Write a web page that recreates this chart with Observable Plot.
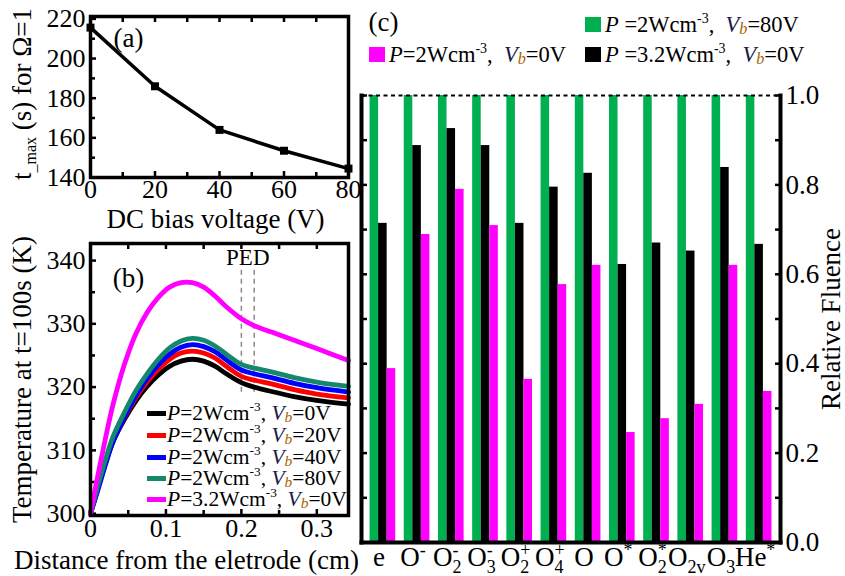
<!DOCTYPE html>
<html><head><meta charset="utf-8">
<script src="https://cdn.jsdelivr.net/npm/d3@7"></script>
<script src="https://cdn.jsdelivr.net/npm/@observablehq/plot@0.6"></script>
<style>
html,body{margin:0;padding:0;background:#fff;}
#wrap{position:relative;width:845px;height:576px;overflow:hidden;font-family:'Liberation Serif','Times New Roman',serif;color:#000;background:#fff;}
.p{position:absolute;}
.p svg{overflow:visible;}
.lg{position:absolute;font-size:21.5px;line-height:22px;height:22px;white-space:nowrap;}
.lg sup{font-size:0.62em;vertical-align:0.65em;line-height:0;}
.vb{font-style:italic;color:#1a1a4c;}
.vb sub{font-size:0.72em;vertical-align:-0.15em;line-height:0;color:#a86400;}
.sw{display:inline-block;width:19px;height:5px;vertical-align:middle;margin-right:1px;position:relative;top:-2px;}
.sq{display:inline-block;width:16px;height:15px;vertical-align:middle;margin-right:4px;position:relative;top:-2px;}
.cl{font-size:22.5px;}
</style></head>
<body>
<div id="wrap">
  <div id="pa" class="p" style="left:0;top:0"></div>
  <div id="pb" class="p" style="left:0;top:230px"></div>
  <div id="pc" class="p" style="left:340px;top:0"></div>
</div>
<script>
// ---------- Panel (a) data ----------
const biasVoltage = [0, 20, 40, 60, 80];
const tMax = [215.6, 186, 164, 153.5, 144.5];
const aXTicks = [0, 20, 40, 60, 80];
const aXMinor = [10, 30, 50, 70];
const aYTicks = [140, 160, 180, 200, 220];
const aYMinor = [150, 170, 190, 210];

// ---------- Panel (b) data ----------
const distance = [0, 0.01, 0.02, 0.03, 0.045, 0.06, 0.075, 0.09, 0.105, 0.12, 0.135, 0.15, 0.165, 0.18, 0.2, 0.217, 0.24, 0.27, 0.3, 0.342];
const tempP2V0  = [300, 304.1, 308, 311.4, 314.9, 317.8, 320.1, 321.9, 323.3, 324.1, 324.4, 324.1, 323.3, 322.1, 320.7, 320.0, 319.3, 318.5, 317.9, 317.3];
const tempP2V20 = [300, 304.2, 308.2, 311.6, 315.2, 318.3, 320.8, 322.8, 324.4, 325.4, 325.7, 325.4, 324.6, 323.3, 321.7, 321.1, 320.5, 319.6, 318.9, 318.3];
const tempP2V40 = [300, 303.8, 307.8, 311.4, 315.3, 318.6, 321.3, 323.5, 325.2, 326.3, 326.7, 326.4, 325.6, 324.3, 322.7, 322.1, 321.5, 320.6, 319.9, 319.2];
const tempP2V80 = [300, 304.5, 308.6, 312.2, 316, 319.4, 322.1, 324.4, 326.2, 327.3, 327.7, 327.4, 326.5, 325.2, 323.6, 323.0, 322.4, 321.5, 320.8, 320.1];
const tempP32V0 = [300, 306.2, 312, 317.3, 323.6, 328.4, 331.8, 334.2, 335.8, 336.5, 336.5, 335.8, 334.4, 332.7, 330.8, 329.7, 328.7, 327.4, 326.1, 324.2];
const bSeries = ["P=2, Vb=0", "P=2, Vb=20", "P=2, Vb=40", "P=2, Vb=80", "P=3.2, Vb=0"];
const bColors = ["#000000", "#ff0000", "#0000ff", "#15876b", "#ff00ff"];
const bLegendP = ["2", "2", "2", "2", "3.2"];
const bLegendV = ["0", "20", "40", "80", "0"];
const pedEdges = [0.2, 0.217];
const pedSpan = [319.2, 339.0];
const bXTicks = [0, 0.1, 0.2, 0.3];
const bXMinor = [0.05, 0.15, 0.25];
const bYTicks = [300, 310, 320, 330, 340];
const bYMinor = [305, 315, 325, 335];

// ---------- Panel (c) data ----------
const species = ["e", "O⁻", "O₂⁻", "O₃⁻", "O₂⁺", "O₄⁺", "O", "O*", "O₂*", "O₂ᵥ", "O₃", "He*"];
const fluenceP2V80 = [1, 1, 1, 1, 1, 1, 1, 1, 1, 1, 1, 1];
const fluenceP32V0 = [0.714, 0.888, 0.926, 0.888, 0.714, 0.795, 0.826, 0.622, 0.670, 0.652, 0.839, 0.667];
const fluenceP2V0  = [0.389, 0.689, 0.790, 0.709, 0.365, 0.577, 0.620, 0.246, 0.277, 0.309, 0.620, 0.338];
const cSeries = ["P=2, Vb=80", "P=3.2, Vb=0", "P=2, Vb=0"];
const cColors = ["#00b050", "#000000", "#ff00ff"];
const cYTicks = [0, 0.2, 0.4, 0.6, 0.8, 1.0];
const cYAll = [0, 0.1, 0.2, 0.3, 0.4, 0.5, 0.6, 0.7, 0.8, 0.9, 1.0];

const FONT = "'Liberation Serif','Times New Roman',serif";
const blank = () => "";
const mid = {textAnchor: "middle", lineAnchor: "middle"};

// inward tick helper
function tx(values, anchor, size, fmt, pad = 5) {
  return Plot.axisX(values, {anchor, tickSize: -size, strokeWidth: 2.5, tickPadding: size + pad,
    tickFormat: fmt || blank, label: null});
}
function ty(values, anchor, size, fmt) {
  return Plot.axisY(values, {anchor, tickSize: -size, strokeWidth: 2.5, tickPadding: size + 5,
    tickFormat: fmt || blank, label: null});
}

// ---------- Plot (a) ----------
const aData = biasVoltage.map((v, i) => ({v, t: tMax[i]}));
const plotA = Plot.plot({
  width: 360, height: 230, marginLeft: 90, marginRight: 12, marginTop: 16, marginBottom: 53,
  style: {fontFamily: FONT, fontSize: "26px", background: "transparent", overflow: "visible"},
  x: {domain: [0, 80]}, y: {domain: [140, 221.2]},
  marks: [
    tx(aXTicks, "bottom", 6, d => String(d), 2),
    tx(aXMinor, "bottom", 5),
    tx(aXTicks.concat(aXMinor), "top", 5),
    ty(aYTicks, "left", 6, d => String(d)),
    ty(aYMinor, "left", 5),
    Plot.line(aData, {x: "v", y: "t", stroke: "#000", strokeWidth: 3.5}),
    Plot.dot(aData, {x: "v", y: "t", symbol: "square", r: 4.5, fill: "#000"}),
    Plot.frame({strokeWidth: 3.5}),
    Plot.text(["(a)"], {frameAnchor: "top-left", dx: 38, dy: 22, fontSize: 27, ...mid}),
    Plot.text(["DC bias voltage (V)"], {frameAnchor: "bottom", dx: -4, dy: 42, fontSize: 27, ...mid}),
    Plot.text(["tmax (s) for Ω=1"], {frameAnchor: "left", rotate: -90, dx: -68, dy: -3, fontSize: 27, ...mid})
  ]
});

// ---------- Plot (b) ----------
const bValues = [tempP2V0, tempP2V20, tempP2V40, tempP2V80, tempP32V0];
const bData = [];
bSeries.forEach((s, k) => distance.forEach((x, i) => bData.push({series: s, x, T: bValues[k][i]})));
const plotB = Plot.plot({
  width: 360, height: 346, marginLeft: 90, marginRight: 12, marginTop: 13, marginBottom: 61,
  style: {fontFamily: FONT, fontSize: "26px", background: "transparent", overflow: "visible"},
  x: {domain: [0, 0.342]}, y: {domain: [299.7, 342.7]},
  color: {domain: bSeries, range: bColors},
  marks: [
    tx(bXTicks, "bottom", 6, d => String(d), 3),
    tx(bXMinor, "bottom", 5),
    tx(bXTicks.concat(bXMinor), "top", 5),
    ty(bYTicks, "left", 6, d => String(d)),
    ty(bYMinor, "left", 5),
    Plot.ruleX(pedEdges, {x: d => d, y1: pedSpan[0], y2: pedSpan[1], stroke: "#8a8a8a", strokeWidth: 1.5, strokeDasharray: "5,4"}),
    Plot.line(bData, {x: "x", y: "T", z: "series", stroke: "series", strokeWidth: 4.8, curve: "catmull-rom", strokeLinejoin: "round"}),
    Plot.frame({strokeWidth: 3.5}),
    Plot.text([d3.mean(pedEdges)], {x: d => d, text: () => "PED", frameAnchor: "top", dy: 14, fontSize: 23, ...mid}),
    Plot.text(["(b)"], {frameAnchor: "top-left", dx: 38, dy: 35, fontSize: 27, ...mid}),
    Plot.text(["Distance from the eletrode (cm)"], {frameAnchor: "bottom", dx: -33, dy: 45, fontSize: 27, ...mid}),
    Plot.text(["Temperature at t=100s (K)"], {frameAnchor: "left", rotate: -90, dx: -68, fontSize: 27, ...mid})
  ]
});

// ---------- Plot (c) ----------
const keyDomain = ["pad0"];
species.forEach(s => keyDomain.push(s + "|g", s + "|k", s + "|m", s + "|pad"));
const cData = [];
species.forEach((s, i) => {
  cData.push({key: s + "|g", series: cSeries[0], value: fluenceP2V80[i]});
  cData.push({key: s + "|k", series: cSeries[1], value: fluenceP32V0[i]});
  cData.push({key: s + "|m", series: cSeries[2], value: fluenceP2V0[i]});
});
const plotC = Plot.plot({
  width: 505, height: 576, marginLeft: 21, marginRight: 65, marginTop: 95, marginBottom: 34,
  style: {fontFamily: FONT, fontSize: "27px", background: "transparent", overflow: "visible"},
  x: {type: "band", domain: keyDomain, padding: 0, round: false},
  y: {domain: [0, 1]},
  color: {domain: cSeries, range: cColors},
  marks: [
    Plot.barY(cData, {x: "key", y: "value", fill: "series"}),
    Plot.ruleY([1], {stroke: "#000", strokeWidth: 2, strokeDasharray: "4,3.5"}),
    Plot.frame({anchor: "left", strokeWidth: 4}),
    Plot.frame({anchor: "right", strokeWidth: 4}),
    Plot.frame({anchor: "bottom", strokeWidth: 4}),
    Plot.axisX(species.map(s => s + "|k"), {anchor: "bottom", tickSize: 0, tickPadding: 4, dx: -4, tickFormat: d => d.split("|")[0], label: null}),
    ty(cYAll, "left", 6),
    ty(cYAll, "right", 6, d => cYTicks.includes(d) ? d3.format(".1f")(d) : ""),
    Plot.text(["(c)"], {frameAnchor: "top-left", dx: 22, dy: -73, fontSize: 27, ...mid}),
    Plot.text(["Relative Fluence"], {frameAnchor: "right", rotate: -90, dx: 51, fontSize: 27, ...mid})
  ]
});

document.getElementById("pa").appendChild(plotA);
document.getElementById("pb").appendChild(plotB);
document.getElementById("pc").appendChild(plotC);

// subscript on t_max label
d3.select(plotA).selectAll("text").each(function() {
  if (this.textContent !== "tmax (s) for Ω=1") return;
  const t = d3.select(this);
  t.text(null);
  t.append("tspan").text("t");
  t.append("tspan").attr("font-size", "16px").attr("dy", "5px").text("_max");
  t.append("tspan").attr("dy", "-5px").text(" (s) for Ω=1");
});
// stacked sub/superscripts on species labels
{
  const subMap = {"₂": "2", "₃": "3", "₄": "4", "ᵥ": "v"};
  const supMap = {"⁻": "-", "⁺": "+", "*": "*"};
  d3.select(plotC).selectAll('g[aria-label="x-axis tick label"] text').each(function() {
    const label = this.textContent;
    let base = "", sub = "", sup = "";
    for (const ch of label) {
      if (subMap[ch]) sub += subMap[ch];
      else if (supMap[ch]) sup += supMap[ch];
      else base += ch;
    }
    const t = d3.select(this);
    t.text(null);
    t.append("tspan").text(base);
    let subW = 0;
    if (sub) {
      const s = t.append("tspan").attr("font-size", "18px").attr("dy", "7px").text(sub);
      subW = s.node().getComputedTextLength();
    }
    if (sup) {
      const u = t.append("tspan").attr("font-size", "18px").text(sup);
      if (sub) u.attr("dx", (-subW) + "px").attr("dy", "-17px");
      else u.attr("dy", "-10px");
    }
  });
}

// ---------- HTML legends ----------
const wrap = document.getElementById("wrap");
const vb = v => `<span class="vb">V<sub>b</sub></span>=${v}V`;
const bRows = [413, 435, 457, 478, 499];
bSeries.forEach((s, k) => {
  const d = document.createElement("div");
  d.className = "lg";
  d.style.left = "147px";
  d.style.top = (bRows[k] - 11) + "px";
  d.innerHTML = `<span class="sw" style="background:${bColors[k]}"></span><i>P</i>=${bLegendP[k]}Wcm<sup>-3</sup>, ${vb(bLegendV[k])}`;
  wrap.appendChild(d);
});
const cLegend = [
  {left: 585, top: 14, color: cColors[0], html: `<i>P</i> =2Wcm<sup>-3</sup>,&nbsp; ${vb("80")}`},
  {left: 369, top: 44, color: cColors[2], html: `<i>P</i>=2Wcm<sup>-3</sup>,&nbsp; ${vb("0")}`},
  {left: 585, top: 44, color: cColors[1], html: `<i>P</i> =3.2Wcm<sup>-3</sup>,&nbsp; ${vb("0")}`}
];
cLegend.forEach(r => {
  const d = document.createElement("div");
  d.className = "lg cl";
  d.style.left = r.left + "px";
  d.style.top = r.top + "px";
  d.innerHTML = `<span class="sq" style="background:${r.color}"></span>${r.html}`;
  wrap.appendChild(d);
});
</script>
</body></html>
